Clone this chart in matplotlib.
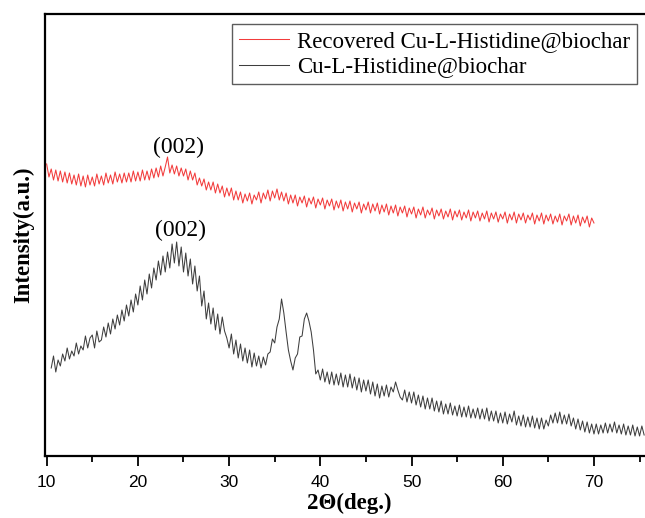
"""
XRD patterns of fresh and recovered Cu-L-Histidine@biochar.
"""

import matplotlib
matplotlib.use("Agg")
import matplotlib.pyplot as plt
import numpy as np
from matplotlib.ticker import MultipleLocator

# 2-theta scan grids (0.25 deg step)
two_theta_fresh = np.arange(10.5, 75.5 + 0.001, 0.25)
two_theta_recovered = np.arange(10.0, 70.0 + 0.001, 0.25)

# Cu-L-Histidine@biochar (a.u.)
intensity_fresh = [
    88, 100,
    84, 96, 90, 102,  # 11
    95, 108, 97, 105,  # 12
    100, 113, 102, 110,  # 13
    106, 120, 108, 118,  # 14
    121, 108, 125, 114,  # 15
    116, 129, 119, 133,  # 16
    122, 137, 127, 141,  # 17
    131, 146, 135, 151,  # 18
    140, 156, 144, 162,  # 19
    151, 170, 156, 176,  # 20
    162, 182, 168, 188,  # 21
    176, 195, 181, 200,  # 22
    184, 204, 188, 212,  # 23
    193, 214, 190, 209,  # 24
    184, 203, 180, 197,  # 25
    172, 190, 165, 180,  # 26
    150, 165, 137, 153,  # 27
    132, 148, 126, 142,  # 28
    122, 139, 125, 118,  # 29
    108, 122, 102, 116,  # 30
    98, 112, 95, 108,  # 31
    93, 106, 89, 103,  # 32
    90, 100, 88, 99,  # 33
    91, 102, 104, 117,  # 34
    113, 129, 137, 157,  # 35
    143, 124, 106, 95,  # 36
    86, 98, 102, 119,  # 37
    120, 137, 143, 135,  # 38
    124, 106, 82, 86,  # 39
    76, 87, 74, 84,  # 40
    72, 84, 71, 82,  # 41
    71, 83, 69, 81,  # 42
    69, 82, 68, 79,  # 43
    66, 78, 64, 76,  # 44
    65, 76, 62, 74,  # 45
    60, 72, 58, 70,  # 46
    60, 71, 59, 69,  # 47
    64, 74, 66, 59,  # 48
    56, 66, 54, 64,  # 49
    53, 64, 51, 61,  # 50
    49, 60, 47, 58,  # 51
    47, 58, 45, 55,  # 52
    44, 55, 42, 52,  # 53
    42, 53, 41, 50,  # 54
    40, 51, 39, 49,  # 55
    39, 50, 38, 47,  # 56
    38, 48, 37, 47,  # 57
    37, 48, 35, 45,  # 58
    35, 45, 33, 43,  # 59
    33, 44, 32, 42,  # 60
    34, 45, 31, 40,  # 61
    30, 41, 29, 39,  # 62
    29, 40, 28, 38,  # 63
    27, 38, 27, 36,  # 64
    30, 41, 33, 43,  # 65
    33, 44, 32, 41,  # 66
    32, 42, 30, 38,  # 67
    27, 37, 26, 35,  # 68
    24, 34, 23, 32,  # 69
    22, 32, 22, 31,  # 70
    23, 33, 23, 32,  # 71
    24, 34, 23, 31,  # 72
    22, 32, 21, 30,  # 73
    21, 31, 20, 29,  # 74
    20, 30, 21,
]

# Recovered Cu-L-Histidine@biochar (a.u.)
intensity_recovered = [
    292, 279, 287, 276,  # 10
    286, 275, 285, 274,  # 11
    284, 273, 283, 272,  # 12
    281, 271, 282, 270,  # 13
    280, 269, 281, 271,  # 14
    279, 270, 282, 272,  # 15
    280, 271, 283, 273,  # 16
    281, 272, 284, 274,  # 17
    282, 273, 283, 274,  # 18
    283, 274, 285, 275,  # 19
    284, 275, 286, 276,  # 20
    285, 276, 287, 278,  # 21
    288, 279, 290, 280,  # 22
    289, 299, 283, 291,  # 23
    282, 290, 280, 288,  # 24
    280, 287, 276, 285,  # 25
    276, 283, 271, 278,  # 26
    270, 277, 266, 274,  # 27
    266, 274, 263, 272,  # 28
    263, 270, 259, 268,  # 29
    260, 268, 256, 265,  # 30
    256, 264, 253, 262,  # 31
    255, 263, 252, 261,  # 32
    256, 264, 253, 263,  # 33
    257, 266, 255, 265,  # 34
    258, 267, 256, 264,  # 35
    255, 263, 252, 261,  # 36
    253, 261, 250, 259,  # 37
    253, 260, 249, 258,  # 38
    252, 259, 248, 257,  # 39
    251, 258, 247, 256,  # 40
    250, 257, 246, 255,  # 41
    248, 256, 245, 254,  # 42
    247, 255, 244, 253,  # 43
    247, 254, 243, 252,  # 44
    246, 254, 243, 252,  # 45
    245, 253, 242, 251,  # 46
    244, 252, 241, 250,  # 47
    243, 251, 240, 249,  # 48
    243, 250, 239, 248,  # 49
    242, 249, 238, 247,  # 50
    241, 249, 238, 246,  # 51
    241, 248, 237, 246,  # 52
    240, 247, 237, 245,  # 53
    239, 247, 236, 245,  # 54
    239, 246, 236, 244,  # 55
    238, 246, 235, 244,  # 56
    238, 245, 235, 243,  # 57
    237, 245, 234, 243,  # 58
    237, 244, 234, 242,  # 59
    237, 244, 233, 242,  # 60
    236, 244, 233, 242,  # 61
    236, 243, 233, 241,  # 62
    236, 243, 232, 241,  # 63
    235, 243, 232, 241,  # 64
    235, 242, 232, 240,  # 65
    234, 242, 231, 240,  # 66
    235, 242, 231, 240,  # 67
    233, 241, 230, 239,  # 68
    233, 240, 229, 238,  # 69
    233,
]

# (002) reflection labels: (x, y) in data units
peak_labels = ["(002)", "(002)"]
peak_label_pos = [(24.5, 309), (24.7, 226)]

RED = "#F23C3C"
DARK = "#3E3E3E"
SERIF = ["Liberation Serif", "DejaVu Serif"]
SANS = ["Liberation Sans", "DejaVu Sans"]

fig = plt.figure(figsize=(6.45, 5.18), dpi=100)
# axes runs past the right edge of the figure, like the cropped original
ax = fig.add_axes([0.0698, 0.1197, 0.943, 0.8533])

ax.plot(two_theta_recovered, intensity_recovered, color=RED, linewidth=0.75,
        label="Recovered Cu-L-Histidine@biochar")
ax.plot(two_theta_fresh, intensity_fresh, color=DARK, linewidth=0.75,
        label="Cu-L-Histidine@biochar")

for txt, (px, py) in zip(peak_labels, peak_label_pos):
    ax.text(px, py, txt, ha="center", va="center", fontsize=17, family=SERIF)

ax.set_xlim(9.82, 76.5)
ax.set_ylim(0, 442)
ax.xaxis.set_major_locator(MultipleLocator(10))
ax.xaxis.set_minor_locator(MultipleLocator(5))
ax.tick_params(axis="x", which="major", direction="out", length=7, width=1.3,
               labelsize=12.5, pad=7)
ax.tick_params(axis="x", which="minor", direction="out", length=4.5, width=1.3)
ax.set_yticks([])
for lbl in ax.get_xticklabels():
    lbl.set_family(SANS)

for side in ["left", "bottom", "top", "right"]:
    ax.spines[side].set_linewidth(1.6)

ax.set_xlabel("2Θ(deg.)", fontsize=16.5, fontweight="bold", family=SERIF,
              labelpad=2)
ax.set_ylabel("Intensity(a.u.)", fontsize=16.4, fontweight="bold", family=SERIF,
              labelpad=8)

leg = ax.legend(loc="upper right", bbox_to_anchor=(637 / 645, 1 - 24 / 518),
                bbox_transform=fig.transFigure, frameon=True, fancybox=False,
                prop={"family": SERIF, "size": 16.5}, handlelength=2.2,
                handletextpad=0.35, labelspacing=0.2, borderpad=0.3,
                borderaxespad=0)
leg.get_frame().set_edgecolor("#333333")
leg.get_frame().set_linewidth(1.0)

fig.savefig("out.png", dpi=100)
